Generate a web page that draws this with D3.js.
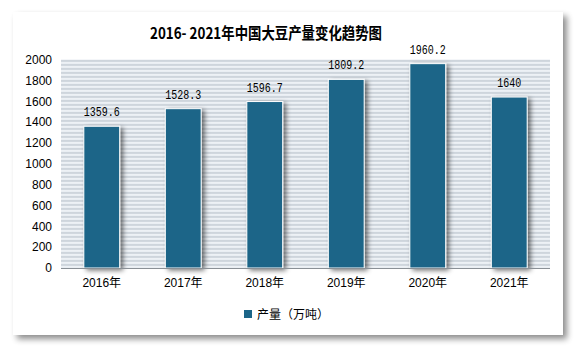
<!DOCTYPE html>
<html><head><meta charset="utf-8">
<script src="https://cdn.jsdelivr.net/npm/d3@7/dist/d3.min.js"></script>
<style>body{margin:0;background:#fff;}svg{display:block;}</style>
</head><body>
<svg id="c" width="579" height="348"></svg>
<script>
const categories = ["2016年","2017年","2018年","2019年","2020年","2021年"];
const values = [1359.6, 1528.3, 1596.7, 1809.2, 1960.2, 1640];
const valueLabels = ["1359.6","1528.3","1596.7","1809.2","1960.2","1640"];
const yTicks = [0,200,400,600,800,1000,1200,1400,1600,1800,2000];
const title = "2016- 2021年中国大豆产量变化趋势图";
const seriesName = "产量（万吨）";

const svg = d3.select("#c");
const defs = svg.append("defs");
const f = defs.append("filter").attr("id","cardShadow").attr("x","-5%").attr("y","-5%").attr("width","115%").attr("height","120%");
f.append("feGaussianBlur").attr("in","SourceAlpha").attr("stdDeviation",3);
f.append("feOffset").attr("dx",4).attr("dy",4).attr("result","b");
f.append("feComponentTransfer").append("feFuncA").attr("type","linear").attr("slope",0.45);
const m = f.append("feMerge"); m.append("feMergeNode"); m.append("feMergeNode").attr("in","SourceGraphic");

const bf = defs.append("filter").attr("id","barShadow").attr("x","-30%").attr("y","-10%").attr("width","180%").attr("height","130%");
bf.append("feGaussianBlur").attr("in","SourceAlpha").attr("stdDeviation",2.5);
bf.append("feOffset").attr("dx",3).attr("dy",2);
bf.append("feComponentTransfer").append("feFuncA").attr("type","linear").attr("slope",0.55);
const bm = bf.append("feMerge"); bm.append("feMergeNode"); bm.append("feMergeNode").attr("in","SourceGraphic");

const pat = defs.append("pattern").attr("id","stripes").attr("patternUnits","userSpaceOnUse").attr("width",8).attr("height",4).attr("y",59.5);
pat.append("rect").attr("width",8).attr("height",4).attr("fill","#f3f6f9");
pat.append("rect").attr("y",0).attr("width",8).attr("height",1).attr("fill","#dfe6ec");
pat.append("rect").attr("y",1).attr("width",8).attr("height",1).attr("fill","#bcc4cc");
pat.append("rect").attr("y",2).attr("width",8).attr("height",1).attr("fill","#e6ecf1");

// card
svg.append("rect").attr("x",13).attr("y",12).attr("width",550).attr("height",323)
  .attr("fill","#fff").attr("filter","url(#cardShadow)");

const x = d3.scaleBand().domain(categories).range([61,550]).paddingInner(0.56).paddingOuter(0.28);
const y = d3.scaleLinear().domain([0,2000]).range([268,59.5]);

svg.append("rect").attr("x",61).attr("y",y(2000)).attr("width",489).attr("height",y(0)-y(2000)).attr("fill","url(#stripes)");

// y axis labels
const ya = svg.append("g").attr("transform","translate(61,0)")
  .call(d3.axisLeft(y).tickValues(yTicks).tickFormat(d3.format("d")).tickSize(0).tickPadding(9));
ya.select(".domain").remove();
ya.selectAll("text").attr("font-family","'Liberation Sans', Arial, sans-serif").attr("font-size",12).attr("fill","#000");

// bars
svg.append("g").selectAll("rect").data(values).join("rect")
  .attr("x",(d,i)=>x(categories[i])).attr("y",d=>y(d))
  .attr("width",x.bandwidth()).attr("height",d=>y(0)-y(d))
  .attr("fill","#1b6588").attr("stroke","#fff").attr("stroke-width",1)
  .attr("filter","url(#barShadow)");

// value labels
svg.append("g").selectAll("text").data(values).join("text")
  .attr("x",(d,i)=>x(categories[i])+x.bandwidth()/2).attr("y",d=>y(d)-10)
  .attr("text-anchor","middle").attr("font-family","'Liberation Mono', monospace")
  .attr("font-size",13).attr("fill","#000")
  .attr("textLength",(d,i)=>valueLabels[i].length*6).attr("lengthAdjust","spacingAndGlyphs")
  .text((d,i)=>valueLabels[i]);

// x axis
const xa = svg.append("g").attr("transform","translate(0,268)")
  .call(d3.axisBottom(x).tickSize(0).tickPadding(10));
xa.select(".domain").attr("stroke","#8a9096").attr("d","M61,0.5H550");
xa.selectAll("text").attr("font-family","'Liberation Sans','Noto Sans CJK SC', sans-serif").attr("font-size",12).attr("fill","#000");

// title
svg.append("text").attr("x",266).attr("y",39).attr("text-anchor","middle")
  .attr("font-family","'Noto Sans CJK SC', sans-serif").attr("font-weight","bold").attr("font-size",16)
  .attr("textLength",232).attr("lengthAdjust","spacingAndGlyphs")
  .attr("fill","#000").text(title);

// legend
const lg = svg.append("g").attr("transform","translate(244,310)");
lg.append("rect").attr("width",8).attr("height",8).attr("fill","#1b6588");
lg.append("text").attr("x",13).attr("y",9).attr("font-family","'Noto Sans CJK SC', sans-serif")
  .attr("font-size",12).attr("fill","#000")
  .attr("textLength",72).attr("lengthAdjust","spacingAndGlyphs").text(seriesName);
</script>
</body></html>
